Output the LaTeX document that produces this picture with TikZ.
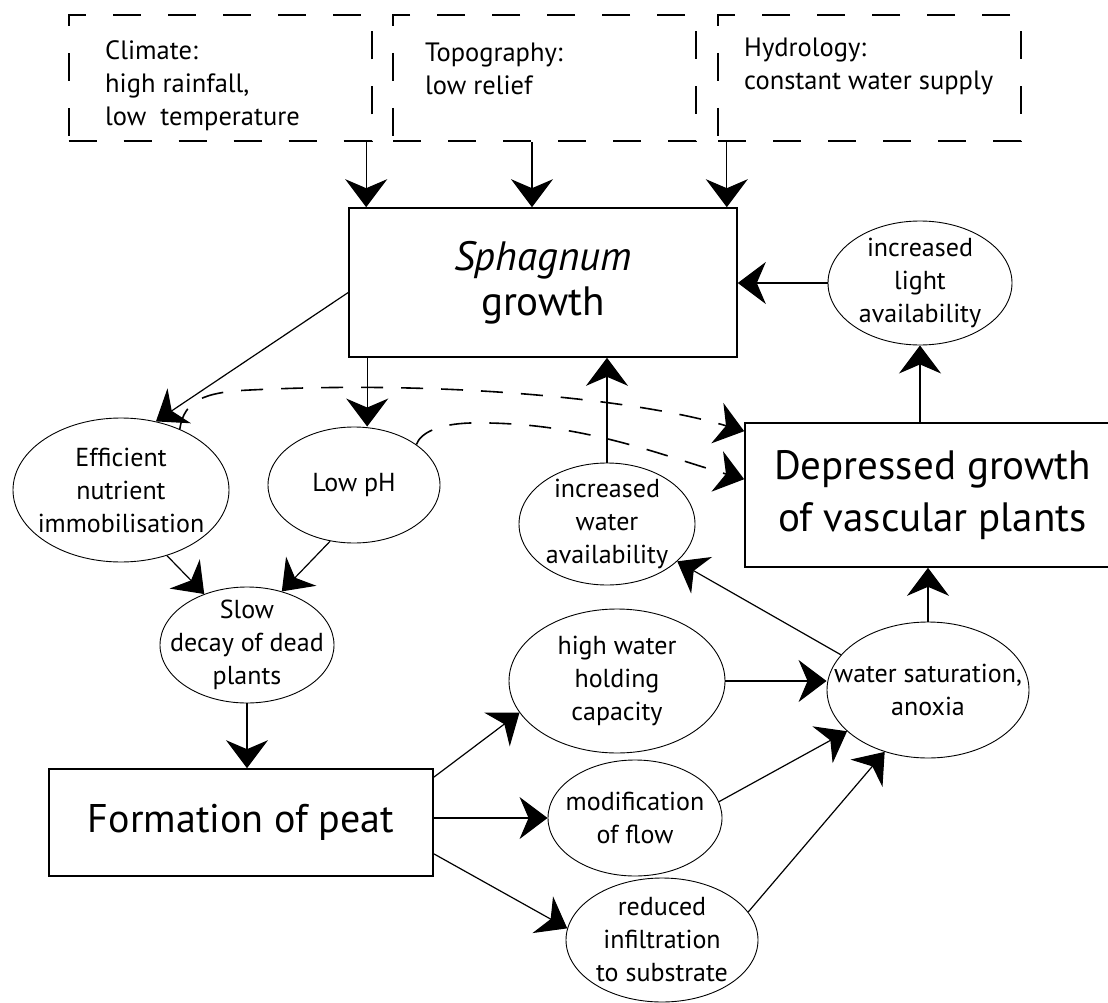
\documentclass[tikz,border=0pt]{standalone}
\usepackage{fontspec}
\setmainfont{PT Sans}
\usetikzlibrary{shapes.geometric,arrows.meta}

\begin{document}
\begin{tikzpicture}[x=1pt,y=-1pt,
        box/.style={draw,line width=1.6pt,align=center,inner sep=0pt},
        dashbox/.style={draw,line width=2pt,dash pattern=on 28pt off 27pt,minimum width=303pt,minimum height=126pt,inner sep=0pt},
        boxtext/.style={anchor=north west,align=left,inner sep=0pt,font=\fontsize{26.5}{33}\selectfont},
        oval/.style={draw,ellipse,line width=0.9pt,inner sep=-32pt,align=center,font=\fontsize{26}{33}\selectfont},
        arr/.style={line width=1.2pt,-{Stealth[length=28pt,width=42pt,inset=9pt]}},
        feed/.style={line width=1.6pt,dash pattern=on 22pt off 18pt,-{Stealth[length=28pt,width=42pt,inset=9pt]}}]
        \useasboundingbox (0,0) rectangle (1108,1003);
        % Top level
        \node[dashbox] (clim) at (220,78.5) {};
        \node[dashbox] (topo) at (544.5,78) {};
        \node[dashbox] (hydro) at (869.5,78) {};
        \node[boxtext] (climtxt) at (105,40) {Climate:\\high rainfall,\\low\ \ temperature};
        \node[boxtext] (topotxt) at (425,43) {Topography:\\low relief};
        \node[boxtext] (hydrotxt) at (744,38) {Hydrology:\\constant water supply};
        % Level 2
        \node[box,minimum width=388pt,minimum height=149pt,font=\fontsize{41}{45}\selectfont] (sphag) at (543,282.5) {\textit{Sphagnum}\\growth};
        \node[oval,minimum width=184pt,minimum height=124pt] (light) at (920,283) {increased\\light\\availability};
        % Level 3
        \node[oval,minimum width=216pt,minimum height=144pt] (effic) at (121,490) {Efficient\\nutrient\\immobilisation};
        \node[oval,minimum width=172pt,minimum height=116pt] (lowph) at (354,485) {Low pH};
        \node[oval,minimum width=176pt,minimum height=122pt] (water) at (607,524) {increased\\water\\availability};
        \node[box,minimum width=375pt,minimum height=144pt,font=\fontsize{41}{52}\selectfont] (depr) at (932.5,495) {Depressed growth\\of vascular plants};
        % Level 4
        \node[oval,minimum width=174pt,minimum height=116pt] (slow) at (247,645) {Slow\\decay of dead\\plants};
        \node[oval,minimum width=216pt,minimum height=144pt] (holding) at (617,681) {high water\\holding\\capacity};
        \node[oval,minimum width=202pt,minimum height=136pt] (satur) at (928,690) {water saturation,\\anoxia};
        % Bottom level
        \node[box,minimum width=384pt,minimum height=107pt,font=\fontsize{40}{44}\selectfont] (peat) at (241,822.5) {Formation of peat};
        \node[oval,minimum width=174pt,minimum height=116pt] (flow) at (635,818) {modification\\of flow};
        \node[oval,minimum width=192pt,minimum height=124pt] (infil) at (662,940) {reduced\\infiltration\\to substrate};
        % Edges
        \draw[arr] ([xshift=18pt]sphag.north west |- clim.south) -- ([xshift=18pt]sphag.north west);
        \draw[arr] ([xshift=-11pt]sphag.north |- topo.south) -- ([xshift=-11pt]sphag.north);
        \draw[arr] ([xshift=-11pt]sphag.north east |- hydro.south) -- ([xshift=-11pt]sphag.north east);
        \draw[arr] (light.west) -- (light.west -| sphag.east);
        \draw[arr] ([yshift=-10pt]sphag.west) -- (effic.63);
        \draw[arr] ([xshift=19pt]sphag.south west) -- ([xshift=19pt]sphag.south west |- lowph.north);
        \draw[arr] (water.north) -- (water.north |- sphag.south);
        \draw[arr] (light.south |- depr.north) -- (light.south);
        \draw[arr] (effic.-55) -- (slow.130);
        \draw[arr] (lowph.247) -- (slow.57);
        \draw[arr] (slow.south) -- (slow.south |- peat.north);
        \draw[arr] ([yshift=-9pt]peat.north east) -- (holding.198);
        \draw[arr] (flow.west -| peat.east) -- (flow.west);
        \draw[arr] ([yshift=23pt]peat.south east) -- (infil.173);
        \draw[arr] (holding.east) -- (holding.east -| satur.west);
        \draw[arr] (flow.11) -- (satur.207);
        \draw[arr] (infil.18) -- (satur.235);
        \draw[arr] (satur.158) -- (water.-28);
        \draw[arr] (satur.north) -- (satur.north |- depr.south);
        % Dashed links
        \draw[feed] (effic.46) .. controls (184,400) and (205,392) .. (250,390)
            .. controls (450,380) and (640,400) .. ([yshift=-9pt]depr.north west);
        \draw[feed] (lowph.33) .. controls (421,432) and (440,424) .. (470,423)
            .. controls (580,421) and (660,455) .. ([yshift=-57pt]depr.north west);
    \end{tikzpicture}
\end{document}
